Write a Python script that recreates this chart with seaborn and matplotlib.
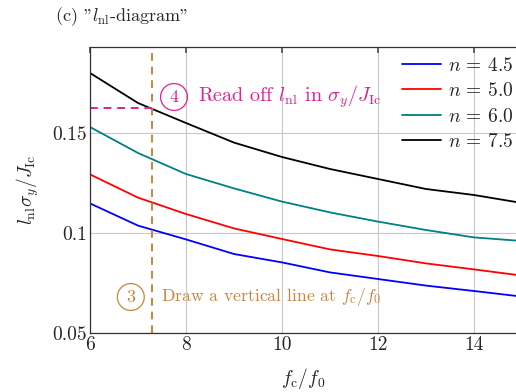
import matplotlib
matplotlib.use("Agg")
import matplotlib.pyplot as plt
import seaborn as sns
import pandas as pd
import numpy as np

# ---- data ----
fc_f0 = [6, 7, 8, 9, 10, 11, 12, 13, 14, 15]
n_labels = [r"$n\,=\,4.5$", r"$n\,=\,5.0$", r"$n\,=\,6.0$", r"$n\,=\,7.5$"]
l_n45 = [0.1148, 0.1037, 0.0968, 0.0895, 0.0853, 0.0803, 0.0770, 0.0737, 0.0710, 0.0682]
l_n50 = [0.1293, 0.1177, 0.1095, 0.1023, 0.0970, 0.0918, 0.0885, 0.0848, 0.0818, 0.0787]
l_n60 = [0.1530, 0.1400, 0.1295, 0.1223, 0.1157, 0.1103, 0.1057, 0.1015, 0.0978, 0.0960]
l_n75 = [0.1800, 0.1650, 0.1550, 0.1452, 0.1380, 0.1320, 0.1270, 0.1220, 0.1190, 0.1150]
colors = ["#0000ff", "#ff0000", "#008080", "#000000"]
vline_x = 7.3
read_y = 0.1623
xticks = [6, 8, 10, 12, 14]
yticks = [0.05, 0.1, 0.15]
ytick_labels = ["0.05", "0.1", "0.15"]

rows = []
for lab, vals in zip(n_labels, [l_n45, l_n50, l_n60, l_n75]):
    for x, y in zip(fc_f0, vals):
        rows.append({"fc": x, "l": y, "n": lab})
df = pd.DataFrame(rows)

sns.set_theme(style="white")
plt.rcParams["font.family"] = ["cmr10", "DejaVu Serif"]
plt.rcParams["mathtext.fontset"] = "cm"
plt.rcParams["axes.formatter.use_mathtext"] = True

fig = plt.figure(figsize=(5.16, 3.92), dpi=100)
ax = fig.add_axes([90/516, 1-333/392, 1-90/516, (333-47)/392])

sns.lineplot(data=df, x="fc", y="l", hue="n", palette=colors, ax=ax, linewidth=1.3)

ax.set_xlim(6, 14.875)
ax.set_ylim(0.05, 0.193)
ax.set_xticks(xticks)
ax.set_xticklabels([str(t) for t in xticks], fontsize=14)
ax.set_yticks(yticks)
ax.set_yticklabels(ytick_labels, fontsize=14)
ax.grid(True, color="#c8c8c8", linewidth=0.8)
ax.set_axisbelow(True)
ax.tick_params(direction="in", length=4, color="#555555", pad=2, top=True)
for s in ["left", "bottom", "top"]:
    ax.spines[s].set_color("#333333")
    ax.spines[s].set_linewidth(0.9)
ax.spines["right"].set_visible(False)

ax.set_xlabel(r"$f_{\mathrm{c}}/f_0$", fontsize=14, labelpad=9)
ax.set_ylabel(r"$l_{\mathrm{nl}}\sigma_y/J_{\mathrm{Ic}}$", fontsize=14, labelpad=8)

orange = "#c8843c"
pink = "#e0208c"
ax.axvline(vline_x, color=orange, linestyle=(0, (4, 3)), linewidth=1.4)
ax.plot([6, vline_x], [read_y, read_y], color=pink, linestyle=(0, (4, 3)), linewidth=1.4)

ax.text(7.75, 0.168, "4", color=pink, fontsize=13, ha="center", va="center",
        bbox=dict(boxstyle="circle,pad=0.32", fc="none", ec=pink, lw=0.9))
ax.text(8.25, 0.168, r"Read off $l_{\mathrm{nl}}$ in $\sigma_y/J_{\mathrm{Ic}}$",
        color=pink, fontsize=14.5, ha="left", va="center")
ax.text(6.85, 0.068, "3", color=orange, fontsize=13, ha="center", va="center",
        bbox=dict(boxstyle="circle,pad=0.32", fc="none", ec=orange, lw=0.9))
ax.text(7.47, 0.068, r"Draw a vertical line at $f_{\mathrm{c}}/f_0$",
        color=orange, fontsize=12.7, ha="left", va="center")

leg = ax.legend(loc="upper right", frameon=False, fontsize=14, handlelength=2.0,
                handletextpad=0.35, borderaxespad=0.1, labelspacing=0.38,
                bbox_to_anchor=(1.016, 1.0))
leg.set_title(None)

fig.text(55/516, 1-17/392, '(c) "$l_{\\mathrm{nl}}$-diagram"', fontsize=13,
         ha="left", va="center")

fig.savefig("out.png", dpi=100)
